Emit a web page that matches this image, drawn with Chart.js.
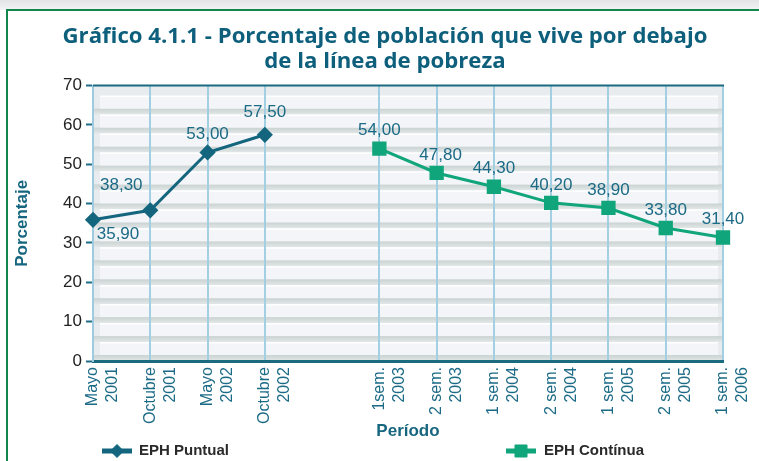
<!DOCTYPE html>
<html>
<head>
<meta charset="utf-8">
<script src="https://cdn.jsdelivr.net/npm/chart.js@4.4.0/dist/chart.umd.min.js"></script>
<style>
    html, body { margin: 0; padding: 0; background: #fff; }
    #wrap { position: relative; width: 759px; height: 461px; overflow: hidden; }
    #shade { position: absolute; left: 0; top: 0; width: 759px; height: 10px; background: linear-gradient(#e2e4e6, #f3f4f5); }
    #frame { position: absolute; left: 6px; top: 9px; width: 770px; height: 470px; border-left: 2px solid #13864c; border-top: 2px solid #13864c; background: #fff; }
    #chartBox { position: absolute; left: 0; top: 0; width: 759px; height: 461px; }
</style>
</head>
<body>
<div id="wrap">
    <div id="shade"></div>
    <div id="frame"></div>
    <div id="chartBox"><canvas id="povertyChart"></canvas></div>
</div>
<script>
// periods (the blank one is the gap between the two surveys)
const periods = [
    ["Mayo", "2001"], ["Octubre", "2001"], ["Mayo", "2002"], ["Octubre", "2002"],
    "",
    ["1sem.", "2003"], ["2 sem.", "2003"], ["1 sem.", "2004"], ["2 sem.", "2004"],
    ["1 sem.", "2005"], ["2 sem.", "2005"], ["1 sem.", "2006"]
];
const ephPuntual  = [35.9, 38.3, 53.0, 57.5, null, null, null, null, null, null, null, null];
const ephContinua = [null, null, null, null, null, 54.0, 47.8, 44.3, 40.2, 38.9, 33.8, 31.4];
const yMin = 0, yMax = 70, yStep = 10;

const TEAL = "#14657e";
const GREEN = "#10a57b";
const LABEL_TEAL = "#1b6a86";
const SANS = "Arial, 'Liberation Sans', sans-serif";

const fmt = v => v.toFixed(2).replace(".", ",");

// striped panel behind the plot
const panelBackground = {
    id: "panelBackground",
    beforeDraw(chart) {
        const { ctx, chartArea: a } = chart;
        ctx.save();
        ctx.fillStyle = "#e9ecee";
        ctx.fillRect(a.left, a.top, a.width, a.height);
        const n = 14, bandH = 13;
        const start = a.top + 10, end = a.bottom - 6;
        const step = (end - start - bandH) / (n - 1);
        for (let k = 0; k < n; k++) {
            const y = start + k * step;
            const g = ctx.createLinearGradient(0, y + bandH, 0, y + step);
            g.addColorStop(0, "#c9d3d1");
            g.addColorStop(1, "#e3e7e8");
            ctx.fillStyle = g;
            ctx.fillRect(a.left, y + bandH, a.width, step - bandH);
            ctx.fillStyle = "#f4f5f8";
            ctx.fillRect(a.left + 7, y, a.width - 12, bandH);
            ctx.fillStyle = "#ffffff";
            ctx.fillRect(a.left + 7, y, a.width - 12, 1.5);
        }
        ctx.restore();
    },
    afterDraw(chart) {
        const { ctx, chartArea: a } = chart;
        ctx.save();
        ctx.strokeStyle = "#1a6a80";
        ctx.lineWidth = 2;
        ctx.beginPath();
        ctx.moveTo(a.left, a.top);
        ctx.lineTo(a.right + 1, a.top);
        ctx.stroke();
        ctx.restore();
    }
};

// value labels next to each point
const valueLabels = {
    id: "valueLabels",
    afterDatasetsDraw(chart) {
        const ctx = chart.ctx;
        ctx.save();
        ctx.font = "17px " + SANS;
        ctx.fillStyle = LABEL_TEAL;
        ctx.textAlign = "center";
        ctx.textBaseline = "middle";
        chart.data.datasets.forEach((ds, di) => {
            chart.getDatasetMeta(di).data.forEach((pt, i) => {
                const v = ds.data[i];
                if (v === null) return;
                let dx = 0, dy = -18;
                if (di === 0 && i === 0) { dx = 25; dy = 15; }
                if (di === 0 && i === 1) { dx = -29; dy = -25; }
                if (di === 0 && i === 3) { dy = -22; }
                if (di === 1 && i === 6) { dx = 4; }
                ctx.fillText(fmt(v), pt.x + dx, pt.y + dy);
            });
        });
        ctx.restore();
    }
};

// legend drawn along the bottom edge
const bottomLegend = {
    id: "bottomLegend",
    afterDraw(chart) {
        const ctx = chart.ctx;
        const items = [
            { ds: 0, x0: 102, x1: 132, tx: 139 },
            { ds: 1, x0: 506, x1: 536, tx: 544 }
        ];
        const y = 451;
        ctx.save();
        items.forEach(it => {
            const ds = chart.data.datasets[it.ds];
            ctx.strokeStyle = ds.borderColor;
            ctx.lineWidth = 5;
            ctx.beginPath();
            ctx.moveTo(it.x0, y);
            ctx.lineTo(it.x1, y);
            ctx.stroke();
            ctx.fillStyle = ds.pointBackgroundColor;
            ctx.strokeStyle = ds.pointBorderColor;
            ctx.lineWidth = 1;
            Chart.helpers.drawPoint(ctx, { pointStyle: ds.pointStyle, radius: ds.pointRadius + 0.5, borderWidth: 1 }, (it.x0 + it.x1) / 2, y);
            ctx.fillStyle = "#2a2a2a";
            ctx.font = "bold 15px " + SANS;
            ctx.textAlign = "left";
            ctx.textBaseline = "middle";
            ctx.fillText(ds.label, it.tx, y);
        });
        ctx.restore();
    }
};

const ctx = document.getElementById("povertyChart").getContext("2d");

new Chart(ctx, {
    type: "line",
    data: {
        labels: periods,
        datasets: [
            {
                label: "EPH Puntual",
                data: ephPuntual,
                borderColor: TEAL,
                backgroundColor: TEAL,
                pointBackgroundColor: TEAL,
                pointBorderColor: TEAL,
                pointStyle: "rectRot",
                pointRadius: 6,
                borderWidth: 3,
                tension: 0,
                spanGaps: false
            },
            {
                label: "EPH Contínua",
                data: ephContinua,
                borderColor: GREEN,
                backgroundColor: GREEN,
                pointBackgroundColor: GREEN,
                pointBorderColor: GREEN,
                pointStyle: "rect",
                pointRadius: 8,
                borderWidth: 3,
                tension: 0,
                spanGaps: false
            }
        ]
    },
    options: {
        responsive: true,
        maintainAspectRatio: false,
        animation: false,
        layout: { padding: { left: 11, right: 0, top: 0, bottom: 15 } },
        plugins: {
            legend: { display: false },
            tooltip: { enabled: false },
            title: {
                display: true,
                text: ["Gráfico 4.1.1 - Porcentaje de población que vive por debajo", "de la línea de pobreza"],
                color: "#0e5f7c",
                font: { family: "'Open Sans', sans-serif", size: 22.2, weight: "bold", lineHeight: 1.14 },
                padding: { top: 24, bottom: 11 }
            }
        },
        scales: {
            x: {
                offset: false,
                grid: {
                    color: c => periods[c.index] === "" ? "rgba(0,0,0,0)" : "#a3cfe3",
                    lineWidth: 2,
                    drawTicks: false
                },
                border: { color: "#1a6a80", width: 3 },
                ticks: {
                    autoSkip: false,
                    minRotation: 90,
                    maxRotation: 90,
                    padding: 6,
                    color: LABEL_TEAL,
                    font: { family: SANS, size: 16, lineHeight: 1.25 }
                },
                title: {
                    display: true,
                    text: "Período",
                    color: "#17667f",
                    font: { family: SANS, size: 17, weight: "bold" }
                },
                afterFit: scale => {
                    scale.height = 85;
                    scale.paddingLeft = 0;
                    scale.paddingRight = 36;
                }
            },
            y: {
                min: yMin,
                max: yMax,
                grid: {
                    drawOnChartArea: false,
                    tickLength: 7,
                    tickColor: "#1d6d86",
                    tickWidth: 2
                },
                border: { color: "#9fcbe0", width: 2 },
                ticks: {
                    stepSize: yStep,
                    padding: 4,
                    color: "#222",
                    font: { family: SANS, size: 17 }
                },
                title: {
                    display: true,
                    text: "Porcentaje",
                    color: "#17667f",
                    padding: { top: 1, bottom: 4 },
                    font: { family: SANS, size: 17, weight: "bold" }
                },
                afterFit: scale => { scale.width = 82; }
            }
        }
    },
    plugins: [panelBackground, valueLabels, bottomLegend]
});
</script>
</body>
</html>
